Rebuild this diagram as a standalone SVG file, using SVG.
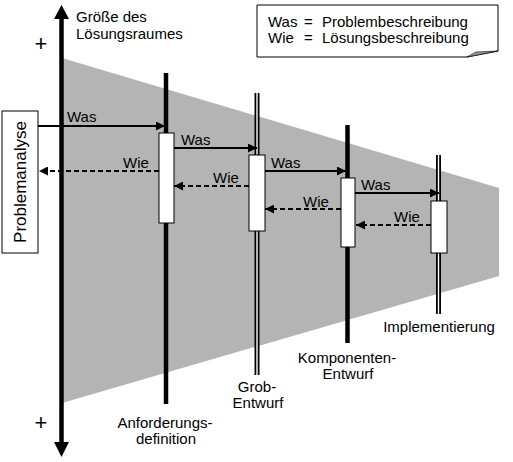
<svg xmlns="http://www.w3.org/2000/svg" width="513" height="462" viewBox="0 0 513 462">
<defs>
<style>
text{font-family:"Liberation Sans",Arial,sans-serif;font-size:15px;fill:#000}
.mid{text-anchor:middle}
.plus{font-size:22px}
.thick{stroke:#000;stroke-width:4.5}
.dbl{stroke:#000;stroke-width:5}
.gap{stroke:#fff;stroke-width:1.4}
.box{fill:#fff;stroke:#000;stroke-width:1}
.was{stroke:#000;stroke-width:2;fill:none;marker-end:url(#ah)}
.wie{stroke:#000;stroke-width:2;fill:none;stroke-dasharray:5 3;marker-end:url(#ah)}
</style>
<marker id="ah" viewBox="0 0 10 10" refX="10" refY="5" markerWidth="4.5" markerHeight="4.5" orient="auto" markerUnits="strokeWidth">
<path d="M0,0 L10,5 L0,10 Z" fill="#000"/>
</marker>
</defs>
<rect width="513" height="462" fill="#fff"/>
<polygon id="space" points="62,58 499,188 499,276 62,403" fill="#b4b4b4"/>

<g id="axis">
<line x1="61.5" y1="16" x2="61.5" y2="444" stroke="#000" stroke-width="4.5"/>
<polygon points="61.5,5 54,19 69,19" fill="#000"/>
<polygon points="61.5,457 54,442 69,442" fill="#000"/>
<text x="41" y="51" class="mid plus">+</text>
<text x="41" y="430" class="mid plus">+</text>
<text x="76" y="22">Größe des</text>
<text x="76" y="39">Lösungsraumes</text>
</g>

<g id="legend">
<path d="M257,5 H498 V51 L467,57 H257 Z" fill="#fff" stroke="#000" stroke-width="1"/>
<polygon points="467,57 498,51 476,52" fill="#9a9a9a" stroke="#000" stroke-width="0.6"/>
<text x="268" y="27">Was</text>
<text x="304" y="27">=</text>
<text x="322" y="27">Problembeschreibung</text>
<text x="268" y="43">Wie</text>
<text x="304" y="43">=</text>
<text x="322" y="43">Lösungsbeschreibung</text>
</g>

<g id="problemanalyse">
<rect x="2" y="111" width="36" height="142" class="box"/>
<text transform="translate(26,182) rotate(-90)" class="mid" style="font-size:17px">Problemanalyse</text>
</g>

<g id="anforderungsdefinition">
<line x1="166" y1="73" x2="166" y2="404" class="thick"/>
<rect x="159" y="133" width="15" height="90" class="box"/>
<text x="165" y="428" class="mid">Anforderungs-</text>
<text x="166" y="444" class="mid">definition</text>
</g>

<g id="grobentwurf">
<line x1="257" y1="93" x2="257" y2="375" class="dbl"/>
<line x1="257" y1="93" x2="257" y2="375" class="gap"/>
<rect x="249" y="155" width="16" height="76" class="box"/>
<text x="257" y="392" class="mid">Grob-</text>
<text x="258" y="408" class="mid">Entwurf</text>
</g>

<g id="komponentenentwurf">
<line x1="347.5" y1="125" x2="347.5" y2="343" class="thick"/>
<rect x="341" y="178" width="14" height="69" class="box"/>
<text x="347" y="363" class="mid">Komponenten-</text>
<text x="348" y="379" class="mid">Entwurf</text>
</g>

<g id="implementierung">
<line x1="438.5" y1="155" x2="438.5" y2="314" class="dbl"/>
<line x1="438.5" y1="155" x2="438.5" y2="314" class="gap"/>
<rect x="431" y="201" width="16" height="52" class="box"/>
<text x="439" y="332" class="mid">Implementierung</text>
</g>

<g id="connectors">
<line x1="38" y1="126" x2="165" y2="126" class="was"/>
<line x1="159" y1="171" x2="39" y2="171" class="wie"/>
<line x1="174" y1="148" x2="257" y2="148" class="was"/>
<line x1="249" y1="186" x2="174" y2="186" class="wie"/>
<line x1="265" y1="171" x2="346" y2="171" class="was"/>
<line x1="341" y1="209" x2="265" y2="209" class="wie"/>
<line x1="355" y1="193" x2="439" y2="193" class="was"/>
<line x1="431" y1="225" x2="356" y2="225" class="wie"/>
<text x="67" y="122">Was</text>
<text x="123" y="168">Wie</text>
<text x="181" y="145">Was</text>
<text x="213" y="183">Wie</text>
<text x="271" y="168">Was</text>
<text x="303" y="207">Wie</text>
<text x="361" y="190">Was</text>
<text x="394" y="222">Wie</text>
</g>
</svg>
